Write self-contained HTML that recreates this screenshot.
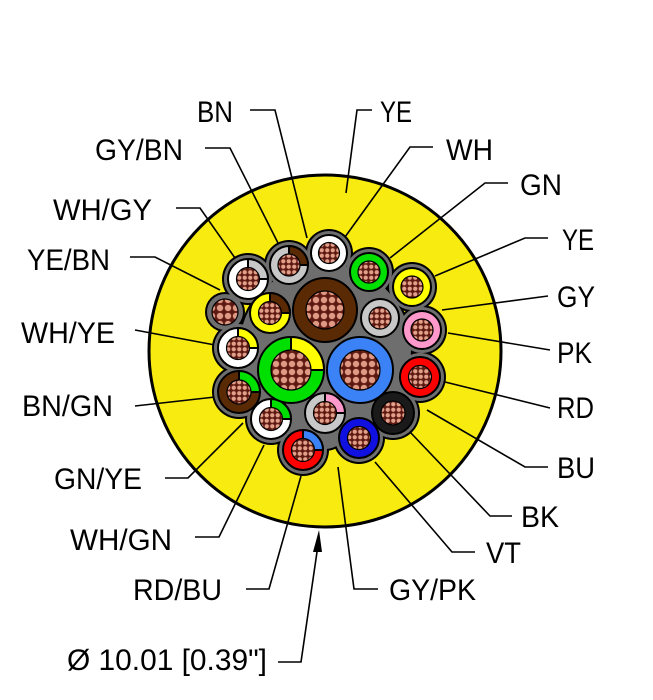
<!DOCTYPE html>
<html><head><meta charset="utf-8"><style>
html,body{margin:0;padding:0;background:#fff;}
svg{display:block;}
text{font-family:"Liberation Sans",sans-serif;font-size:30px;fill:#000;}
</style></head><body>
<svg width="653" height="700" viewBox="0 0 653 700" xmlns="http://www.w3.org/2000/svg">
<defs>
<pattern id="st" width="5.5" height="5.5" patternUnits="userSpaceOnUse">
<rect width="5.5" height="5.5" fill="#5a1a12"/>
<circle cx="2.75" cy="2.75" r="2.3" fill="#e0a08a" stroke="#7a2a20" stroke-width="0.5"/>
</pattern>
<pattern id="st2" width="8" height="8" patternUnits="userSpaceOnUse">
<rect width="8" height="8" fill="#5a1a12"/>
<circle cx="4" cy="4" r="3.4" fill="#de9a84" stroke="#7a2a20" stroke-width="0.6"/>
</pattern>
</defs>
<circle cx="325" cy="351" r="176" fill="#f7eb10" stroke="#000" stroke-width="3"/>
<g stroke="#000" stroke-width="1.6" fill="none">
<polyline points="250,110 275,110 307,238"/>
<polyline points="205,148 230,148 280,247"/>
<polyline points="176,208 200,208 235,258"/>
<polyline points="130,257 155,257 220,290"/>
<polyline points="135,330 215,345"/>
<polyline points="135,406 215,397"/>
<polyline points="165,478 188,478 243,423"/>
<polyline points="195,537 219,537 264,445"/>
<polyline points="246,589 269,589 301,476"/>
<polyline points="378,589 354,589 338,467"/>
<polyline points="372,110 357,110 346,193"/>
<polyline points="433,147 410,147 345,237"/>
<polyline points="508,183 485,183 390,258"/>
<polyline points="548,238 525,238 435,276"/>
<polyline points="548,296 442,310"/>
<polyline points="550,350 448,333"/>
<polyline points="550,408 445,382"/>
<polyline points="548,467 525,467 427,410"/>
<polyline points="512,516 490,516 410,432"/>
<polyline points="475,552 452,552 375,462"/>
<polyline points="278,662 301,662 318,545"/>
</g>
<polygon points="319,530 313,552 322,552" fill="#000"/>
<g fill="#000">
<circle cx="325" cy="350" r="88"/>
<circle cx="329" cy="253" r="24"/><circle cx="289" cy="265" r="25"/><circle cx="248" cy="279" r="26"/>
<circle cx="369" cy="272" r="25"/><circle cx="412" cy="287" r="25"/><circle cx="422" cy="330" r="25"/>
<circle cx="420" cy="377" r="26"/><circle cx="393" cy="413" r="27"/><circle cx="359" cy="438" r="26"/>
<circle cx="325" cy="425" r="26"/><circle cx="303" cy="450" r="26"/><circle cx="271" cy="419" r="26"/>
<circle cx="239" cy="392" r="27"/><circle cx="238" cy="348" r="26"/><circle cx="225" cy="312" r="20"/>
</g>
<g fill="#6e6e6e">
<circle cx="325" cy="350" r="86"/>
<circle cx="329" cy="253" r="22"/><circle cx="289" cy="265" r="23"/><circle cx="248" cy="279" r="24"/>
<circle cx="369" cy="272" r="23"/><circle cx="412" cy="287" r="23"/><circle cx="422" cy="330" r="23"/>
<circle cx="420" cy="377" r="24"/><circle cx="393" cy="413" r="25"/><circle cx="359" cy="438" r="24"/>
<circle cx="325" cy="425" r="24"/><circle cx="303" cy="450" r="24"/><circle cx="271" cy="419" r="24"/>
<circle cx="239" cy="392" r="25"/><circle cx="238" cy="348" r="24"/><circle cx="225" cy="312" r="18"/>
</g>
<g stroke="#000" stroke-width="2">
<circle cx="329" cy="253" r="18" fill="#fff"/>
<circle cx="289" cy="265" r="19" fill="#c8c8c8"/><path d="M289,265 L289,246 A19,19 0 0 1 308,265 Z" fill="#5a2a05"/>
<circle cx="248" cy="279" r="20" fill="#fff"/><path d="M248,279 L248,259 A20,20 0 0 1 268,279 Z" fill="#c8c8c8"/>
<circle cx="369" cy="272" r="19" fill="#00e000"/>
<circle cx="412" cy="287" r="19" fill="#ffff00"/>
<circle cx="380" cy="318" r="19" fill="#c8c8c8"/>
<circle cx="422" cy="330" r="19" fill="#ff99cc"/>
<circle cx="420" cy="377" r="20" fill="#ff0000"/>
<circle cx="393" cy="413" r="21" fill="#1a1a1a"/>
<circle cx="359" cy="438" r="20" fill="#1010e0"/>
<circle cx="325" cy="413" r="20" fill="#c8c8c8"/><path d="M325,413 L325,393 A20,20 0 0 1 345,413 Z" fill="#ff99cc"/>
<circle cx="303" cy="450" r="20" fill="#ff0000"/><path d="M303,450 L303,430 A20,20 0 0 1 323,450 Z" fill="#3b82f6"/>
<circle cx="271" cy="419" r="20" fill="#fff"/><path d="M271,419 L271,399 A20,20 0 0 1 291,419 Z" fill="#00e000"/>
<circle cx="239" cy="392" r="21" fill="#5a2a05"/><path d="M239,392 L239,371 A21,21 0 0 1 260,392 Z" fill="#00e000"/>
<circle cx="238" cy="348" r="20" fill="#fff"/><path d="M238,348 L238,328 A20,20 0 0 1 258,348 Z" fill="#ffff00"/>
<circle cx="270" cy="313" r="20" fill="#ffff00"/><path d="M270,313 L270,293 A20,20 0 0 1 290,313 Z" fill="#5a2a05"/>
<circle cx="325" cy="310" r="32" fill="#5a2a05"/>
<circle cx="291" cy="370" r="33" fill="#00e000"/><path d="M291,370 L291,337 A33,33 0 0 1 324,370 Z" fill="#ffff00"/>
<circle cx="360" cy="370" r="33" fill="#3b82f6"/>
</g>
<g fill="url(#st)" stroke="#000" stroke-width="1.2">
<circle cx="329" cy="253" r="10.5"/><circle cx="289" cy="265" r="11"/><circle cx="248" cy="279" r="11.5"/>
<circle cx="369" cy="272" r="11"/><circle cx="412" cy="287" r="11"/><circle cx="380" cy="318" r="11"/>
<circle cx="422" cy="330" r="11"/><circle cx="420" cy="377" r="11.5"/><circle cx="393" cy="413" r="12"/>
<circle cx="359" cy="438" r="11.5"/><circle cx="325" cy="413" r="11.5"/><circle cx="303" cy="450" r="11.5"/>
<circle cx="271" cy="419" r="11.5"/><circle cx="239" cy="392" r="12"/><circle cx="238" cy="348" r="11.5"/>
<circle cx="270" cy="313" r="11.5"/>
</g>
<g fill="url(#st2)" stroke="#000" stroke-width="1.2">
<circle cx="325" cy="310" r="19"/><circle cx="291" cy="370" r="20"/><circle cx="360" cy="370" r="20"/>
<circle cx="225" cy="312" r="13"/>
</g>
<text x="197" y="122" textLength="36" lengthAdjust="spacingAndGlyphs">BN</text>
<text x="95" y="160" textLength="88" lengthAdjust="spacingAndGlyphs">GY/BN</text>
<text x="53" y="220" textLength="99" lengthAdjust="spacingAndGlyphs">WH/GY</text>
<text x="27" y="270" textLength="83" lengthAdjust="spacingAndGlyphs">YE/BN</text>
<text x="21" y="343" textLength="94" lengthAdjust="spacingAndGlyphs">WH/YE</text>
<text x="22" y="416" textLength="91" lengthAdjust="spacingAndGlyphs">BN/GN</text>
<text x="54" y="489" textLength="88" lengthAdjust="spacingAndGlyphs">GN/YE</text>
<text x="70" y="550" textLength="102" lengthAdjust="spacingAndGlyphs">WH/GN</text>
<text x="133" y="600" textLength="89" lengthAdjust="spacingAndGlyphs">RD/BU</text>
<text x="389" y="600" textLength="87" lengthAdjust="spacingAndGlyphs">GY/PK</text>
<text x="67" y="670" textLength="200" lengthAdjust="spacingAndGlyphs">Ø 10.01 [0.39"]</text>
<text x="380" y="122" textLength="32" lengthAdjust="spacingAndGlyphs">YE</text>
<text x="446" y="160" textLength="47" lengthAdjust="spacingAndGlyphs">WH</text>
<text x="520" y="195" textLength="42" lengthAdjust="spacingAndGlyphs">GN</text>
<text x="562" y="250" textLength="32" lengthAdjust="spacingAndGlyphs">YE</text>
<text x="557" y="307" textLength="38" lengthAdjust="spacingAndGlyphs">GY</text>
<text x="557" y="363" textLength="35" lengthAdjust="spacingAndGlyphs">PK</text>
<text x="557" y="418" textLength="37" lengthAdjust="spacingAndGlyphs">RD</text>
<text x="557" y="478" textLength="38" lengthAdjust="spacingAndGlyphs">BU</text>
<text x="521" y="527" textLength="38" lengthAdjust="spacingAndGlyphs">BK</text>
<text x="486" y="563" textLength="35" lengthAdjust="spacingAndGlyphs">VT</text>
</svg>
</body></html>
